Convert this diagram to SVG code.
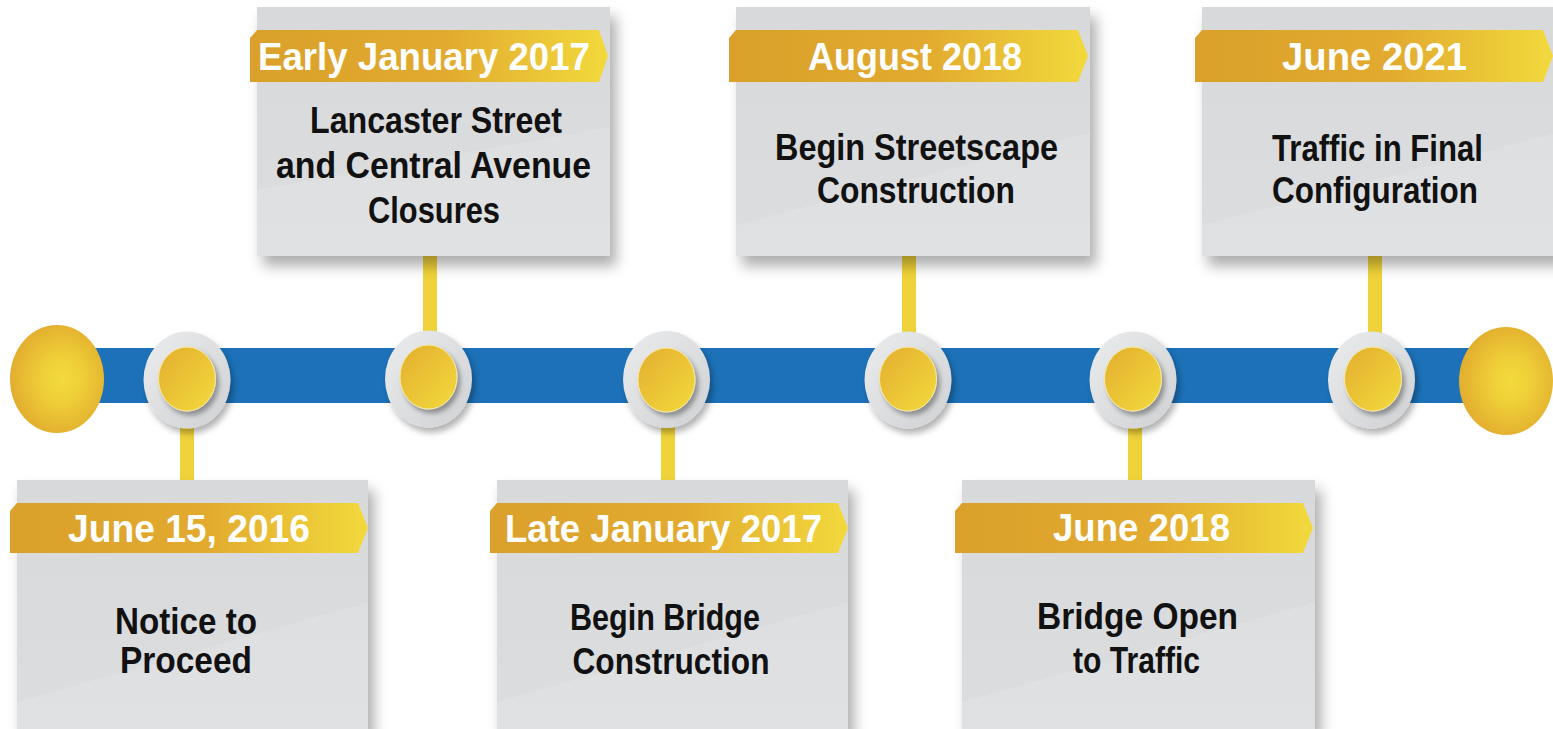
<svg xmlns="http://www.w3.org/2000/svg" width="1553" height="729" viewBox="0 0 1553 729">
<style>
.card{fill:url(#cardGrad);filter:url(#cardShadow)}
.sheen{fill:#ffffff;opacity:0.13}
.band{fill:url(#bannerGrad)}
.date{font-family:"Liberation Sans",Arial,sans-serif;font-weight:bold;font-size:39px;fill:#ffffff;text-anchor:middle}
.body{font-family:"Liberation Sans",Arial,sans-serif;font-weight:bold;font-size:37px;fill:#111111;text-anchor:middle}
.stub{fill:#f0d33a}
.ring{fill:url(#ringGrad);filter:url(#ringShadow)}
.dot{fill:url(#dotGrad);stroke:#f8e9a0;stroke-width:1;filter:url(#dotShadow)}
.big{fill:url(#bigGrad)}
</style>
<defs>
<linearGradient id="bannerGrad" x1="0" y1="0" x2="1" y2="0">
<stop offset="0" stop-color="#daa02b"/>
<stop offset="0.55" stop-color="#e2ab2f"/>
<stop offset="1" stop-color="#f2d93d"/>
</linearGradient>
<linearGradient id="cardGrad" x1="0" y1="0" x2="0" y2="1">
<stop offset="0" stop-color="#d8d9db"/>
<stop offset="1" stop-color="#dcdddf"/>
</linearGradient>
<radialGradient id="bigGrad" cx="0.55" cy="0.5" r="0.6">
<stop offset="0" stop-color="#f3da3c"/>
<stop offset="0.35" stop-color="#efcf38"/>
<stop offset="1" stop-color="#e0a82d"/>
</radialGradient>
<linearGradient id="dotGrad" x1="0" y1="0" x2="1" y2="1">
<stop offset="0" stop-color="#e3ae2f"/>
<stop offset="1" stop-color="#f3da3d"/>
</linearGradient>
<linearGradient id="ringGrad" x1="0" y1="0" x2="1" y2="1">
<stop offset="0" stop-color="#ebeced"/>
<stop offset="1" stop-color="#d0d1d4"/>
</linearGradient>
<filter id="cardShadow" x="-10%" y="-10%" width="125%" height="130%">
<feDropShadow dx="6" dy="10" stdDeviation="7" flood-color="#000" flood-opacity="0.32"/>
</filter>
<filter id="ringShadow" x="-30%" y="-30%" width="170%" height="170%">
<feDropShadow dx="3" dy="5" stdDeviation="3" flood-color="#000" flood-opacity="0.3"/>
</filter>
<filter id="dotShadow" x="-30%" y="-30%" width="170%" height="170%">
<feDropShadow dx="3" dy="4" stdDeviation="2.5" flood-color="#000" flood-opacity="0.35"/>
</filter>
</defs>
<rect width="1553" height="729" fill="#ffffff"/>

<g id="connectors">
<rect class="stub" x="180" y="424" width="14" height="60"/>
<rect class="stub" x="423" y="250" width="14" height="86"/>
<rect class="stub" x="661" y="424" width="14" height="60"/>
<rect class="stub" x="902" y="250" width="14" height="86"/>
<rect class="stub" x="1128" y="424" width="14" height="60"/>
<rect class="stub" x="1368" y="250" width="14" height="86"/>
</g>

<g id="timeline">
<rect x="90" y="348" width="1380" height="55" fill="#1c71b8"/>
<ellipse class="big" cx="57" cy="379" rx="47" ry="54"/>
<ellipse class="big" cx="1506" cy="381" rx="47" ry="54"/>
</g>

<g id="dot1"><ellipse class="ring" cx="187" cy="380" rx="43.5" ry="48.5"/><ellipse class="dot" cx="187" cy="379" rx="28.5" ry="32"/></g>
<g id="dot2"><ellipse class="ring" cx="428.5" cy="379" rx="43.5" ry="48.5"/><ellipse class="dot" cx="428.5" cy="377" rx="28.5" ry="32"/></g>
<g id="dot3"><ellipse class="ring" cx="666.5" cy="379.5" rx="43.5" ry="48.5"/><ellipse class="dot" cx="666.5" cy="380" rx="28.5" ry="32"/></g>
<g id="dot4"><ellipse class="ring" cx="908" cy="380" rx="43.5" ry="48.5"/><ellipse class="dot" cx="908" cy="379" rx="28.5" ry="32"/></g>
<g id="dot5"><ellipse class="ring" cx="1133" cy="380" rx="43.5" ry="48.5"/><ellipse class="dot" cx="1133" cy="379" rx="28.5" ry="32"/></g>
<g id="dot6"><ellipse class="ring" cx="1371.5" cy="380" rx="43.5" ry="48.5"/><ellipse class="dot" cx="1373" cy="379" rx="28.5" ry="32"/></g>

<g id="m1">
<rect class="card" x="17" y="480" width="351" height="252"/>
<polygon class="sheen" points="17,702 368,602 368,732 17,732"/>
<polygon class="band" points="10,511 17,503 358,503 368,528 358,553 10,553"/>
<text class="date" x="189" y="542" textLength="242" lengthAdjust="spacingAndGlyphs">June 15, 2016</text>
<text class="body" x="186" y="634" textLength="142" lengthAdjust="spacingAndGlyphs">Notice to</text>
<text class="body" x="186" y="673" textLength="132" lengthAdjust="spacingAndGlyphs">Proceed</text>
</g>

<g id="m2">
<rect class="card" x="257" y="7" width="353" height="249"/>
<polygon class="sheen" points="257,190 610,127 610,256 257,256"/>
<polygon class="band" points="250,38 257,30 599,30 608,56 599,82 250,82"/>
<text class="date" x="424" y="70" textLength="332" lengthAdjust="spacingAndGlyphs">Early January 2017</text>
<text class="body" x="436" y="133" textLength="252" lengthAdjust="spacingAndGlyphs">Lancaster Street</text>
<text class="body" x="433.5" y="178" textLength="315" lengthAdjust="spacingAndGlyphs">and Central Avenue</text>
<text class="body" x="434" y="223" textLength="132" lengthAdjust="spacingAndGlyphs">Closures</text>
</g>

<g id="m3">
<rect class="card" x="497" y="480" width="351" height="252"/>
<polygon class="sheen" points="497,702 848,602 848,732 497,732"/>
<polygon class="band" points="490,511 497,503 838,503 848,528 838,553 490,553"/>
<text class="date" x="663.5" y="542" textLength="317" lengthAdjust="spacingAndGlyphs">Late January 2017</text>
<text class="body" x="665" y="630" textLength="190" lengthAdjust="spacingAndGlyphs">Begin Bridge</text>
<text class="body" x="671" y="674" textLength="197" lengthAdjust="spacingAndGlyphs">Construction</text>
</g>

<g id="m4">
<rect class="card" x="736" y="7" width="354" height="249"/>
<polygon class="sheen" points="736,225 1090,132 1090,256 736,256"/>
<polygon class="band" points="729,38 736,30 1078,30 1088,56 1078,82 729,82"/>
<text class="date" x="915" y="70" textLength="214" lengthAdjust="spacingAndGlyphs">August 2018</text>
<text class="body" x="916.5" y="160" textLength="283" lengthAdjust="spacingAndGlyphs">Begin Streetscape</text>
<text class="body" x="916" y="203" textLength="198" lengthAdjust="spacingAndGlyphs">Construction</text>
</g>

<g id="m5">
<rect class="card" x="962" y="480" width="353" height="252"/>
<polygon class="sheen" points="962,702 1315,602 1315,732 962,732"/>
<polygon class="band" points="955,511 962,503 1303,503 1313,528 1303,553 955,553"/>
<text class="date" x="1141.5" y="541" textLength="177" lengthAdjust="spacingAndGlyphs">June 2018</text>
<text class="body" x="1137.5" y="629" textLength="201" lengthAdjust="spacingAndGlyphs">Bridge Open</text>
<text class="body" x="1136.5" y="673" textLength="127" lengthAdjust="spacingAndGlyphs">to Traffic</text>
</g>

<g id="m6">
<rect class="card" x="1202" y="7" width="360" height="249"/>
<polygon class="sheen" points="1202,225 1560,132 1560,256 1202,256"/>
<polygon class="band" points="1195,38 1202,30 1543,30 1553,56 1543,82 1195,82"/>
<text class="date" x="1374.5" y="70" textLength="185" lengthAdjust="spacingAndGlyphs">June 2021</text>
<text class="body" x="1377.5" y="161" textLength="211" lengthAdjust="spacingAndGlyphs">Traffic in Final</text>
<text class="body" x="1375" y="203" textLength="206" lengthAdjust="spacingAndGlyphs">Configuration</text>
</g>
</svg>
